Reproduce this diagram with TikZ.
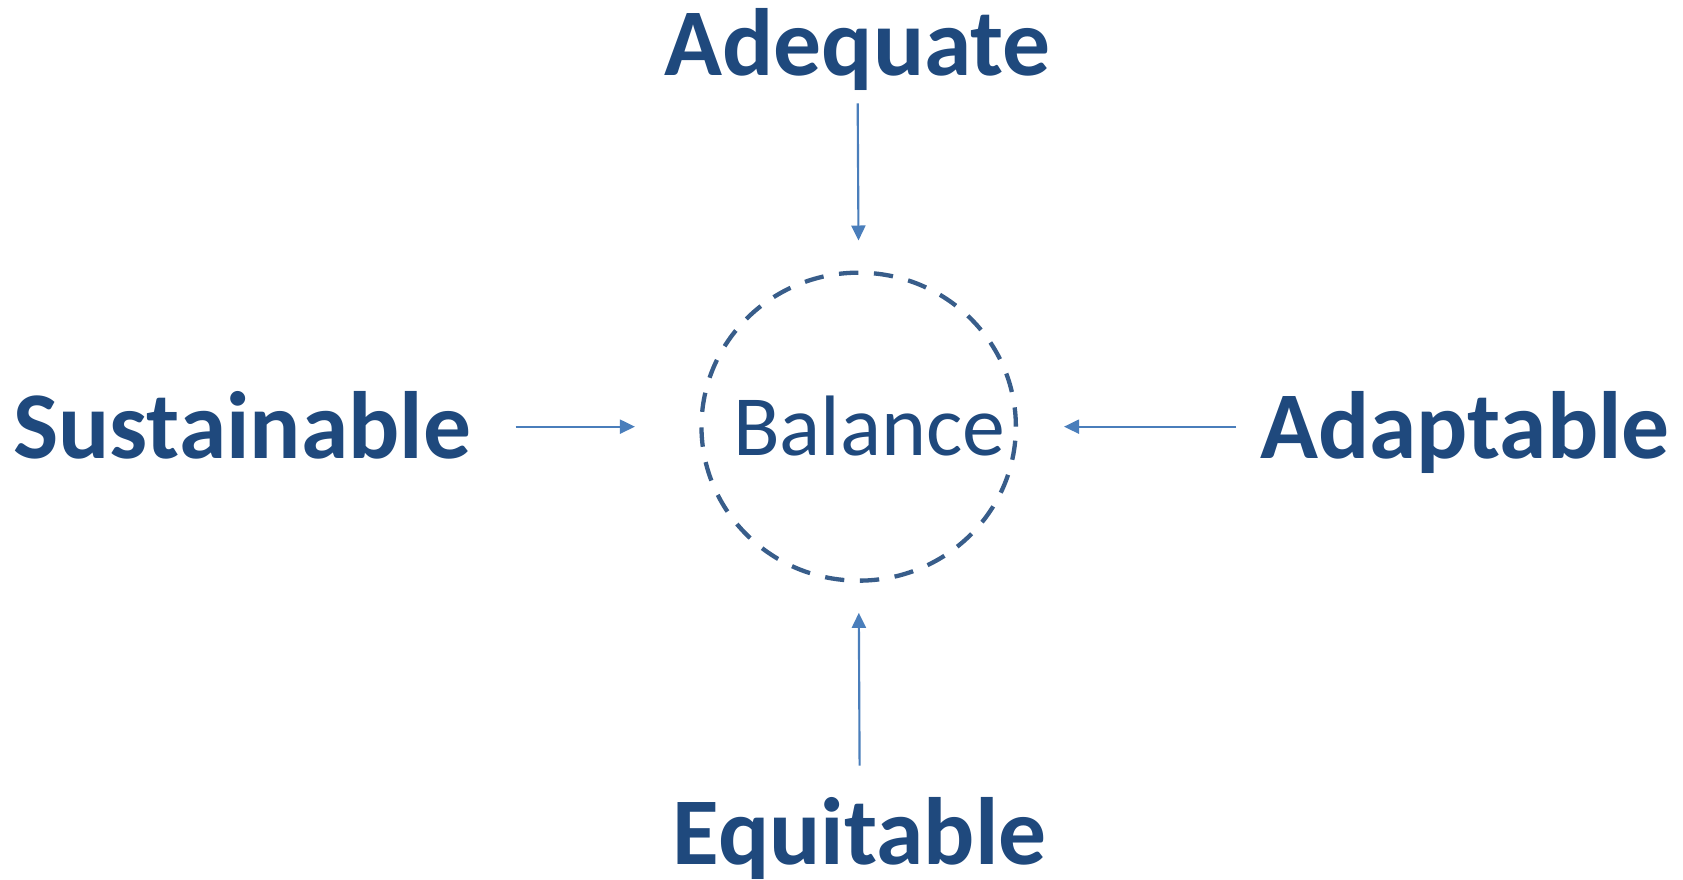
\documentclass[tikz,border=0pt]{standalone}
\usepackage{fontspec}
\setmainfont{Carlito}
\usetikzlibrary{arrows.meta,shapes.geometric}
\definecolor{txtblue}{HTML}{1F497D}
\definecolor{ringblue}{HTML}{385D8A}
\definecolor{arrblue}{HTML}{4A7EBB}
\tikzset{
  biglabel/.style={font=\fontsize{47.8}{54}\selectfont\bfseries, text=txtblue, inner sep=0pt},
  conn/.style={draw=arrblue, line width=1.07pt, -{Triangle[length=7.5pt,width=7pt]}},
}
\begin{document}
\begin{tikzpicture}[x=0.53667pt,y=-0.53667pt]
\useasboundingbox[fill=white] (0,0) rectangle (1568,819);
\node[ellipse, draw=ringblue, line width=2.15pt, dash pattern=on 9.66pt off 7.83pt,
      minimum width=157.2pt, minimum height=154pt, inner sep=0pt] (bal) at (800,397.5) {};
\node[font=\fontsize{42.9}{48}\selectfont, text=txtblue, inner sep=0pt, anchor=base] (baltxt) at (810,424) {Balance};
\node[biglabel, anchor=base] (adq) at (799,70) {Adequate};
\node[biglabel, anchor=base] (equ) at (801,805) {Equitable};
\node[biglabel, anchor=base west] (sus) at (12,427) {Sustainable};
\node[biglabel, anchor=base east] (ada) at (1556,427) {Adaptable};
\draw[conn, shorten <=6.4pt, shorten >=15pt] (adq.south) -- (bal.north);
\draw[conn, shorten <=15.5pt, shorten >=15pt] (equ.north) -- (bal.south);
\draw[conn, shorten <=22pt, shorten >=32.2pt] (sus.east |- bal.center) -- (bal.west);
\draw[conn, shorten <=11.8pt, shorten >=23pt] (ada.west |- bal.center) -- (bal.east);
\end{tikzpicture}
\end{document}
